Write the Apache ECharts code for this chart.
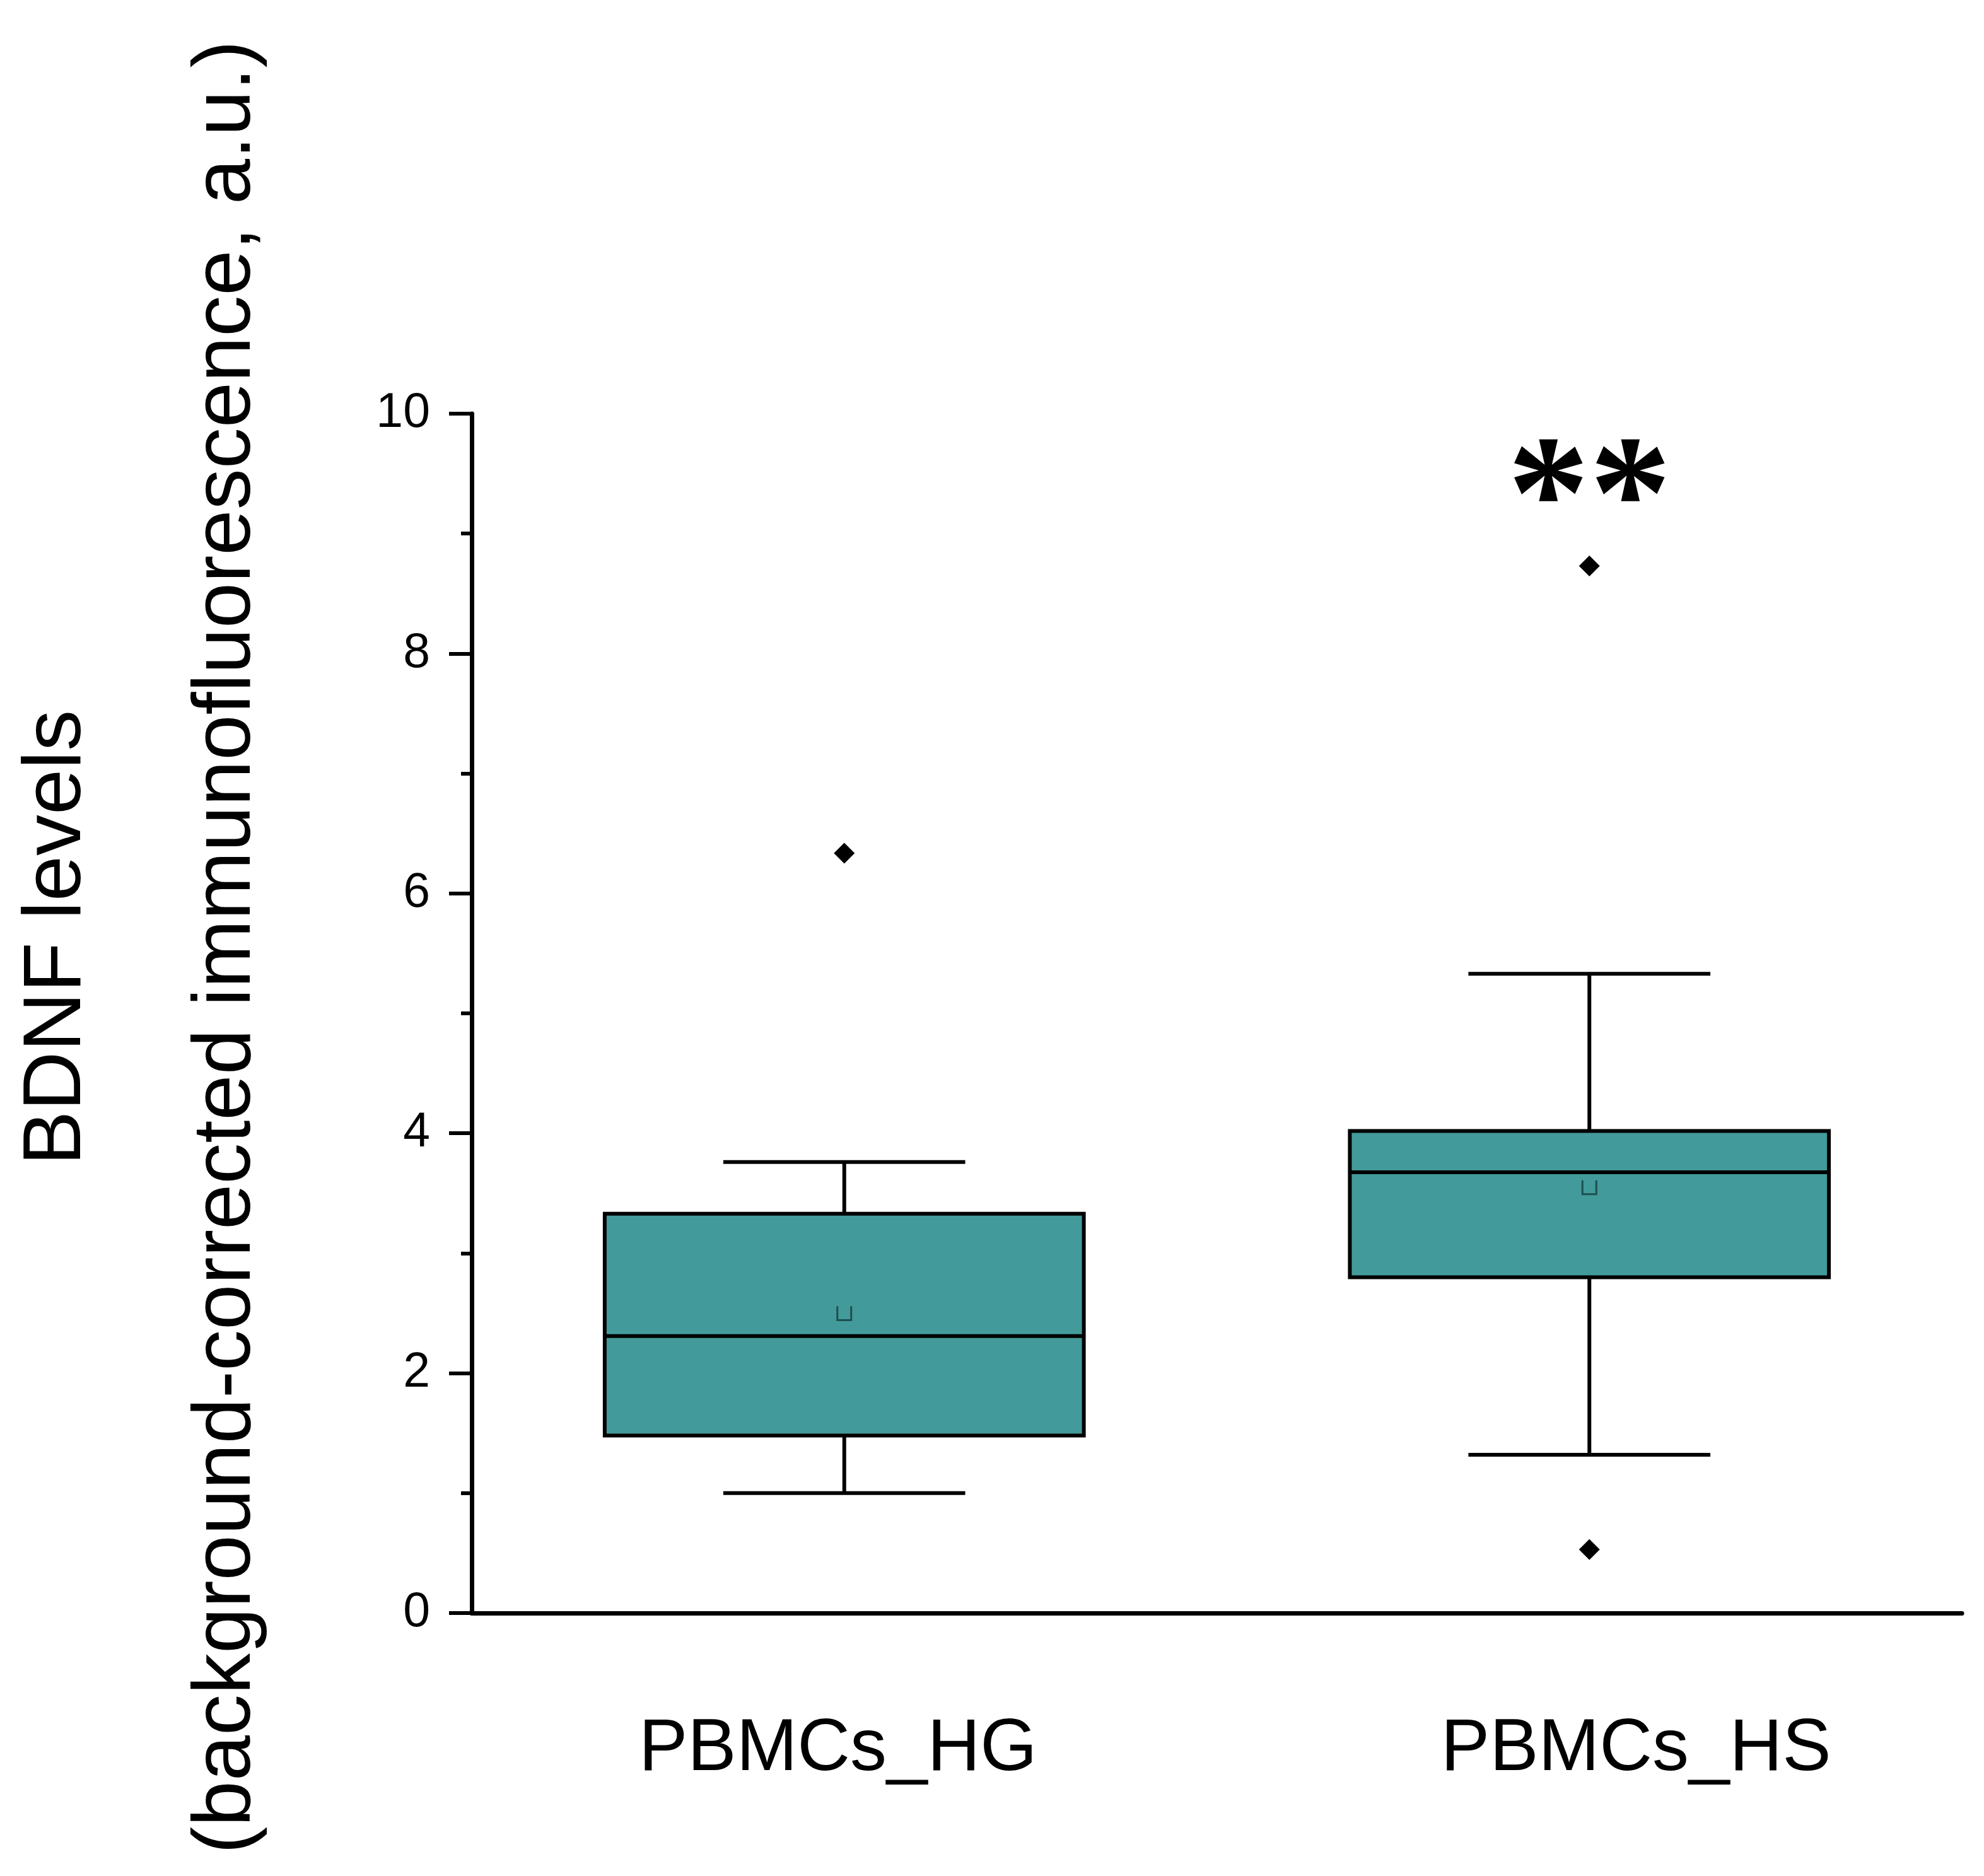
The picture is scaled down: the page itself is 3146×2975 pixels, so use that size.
<!DOCTYPE html>
<html>
<head>
<meta charset="utf-8">
<script src="https://cdn.jsdelivr.net/npm/echarts@6/dist/echarts.min.js"></script>
<style>
html,body{margin:0;padding:0;background:#fff;}
#chart{width:3146px;height:2975px;}
</style>
</head>
<body>
<div id="chart"></div>
<script>
// ---- data ----
const categories   = ['PBMCs_HG', 'PBMCs_HS'];
const whiskerLow   = [1.00, 1.32];
const q1           = [1.48, 2.80];
const median       = [2.31, 3.675];
const q3           = [3.33, 4.02];
const whiskerHigh  = [3.76, 5.33];
const means        = [2.50, 3.55];
const outlierCat   = [0, 1, 1];
const outlierValue = [6.335, 8.73, 0.53];
const sigCat       = [1];
const sigValue     = [9.50];
const sigText      = ['**'];
const yTicks       = [0, 2, 4, 6, 8, 10];
const yTitle1      = 'BDNF levels';
const yTitle2      = '(background-corrected immunofluorescence, a.u.)';

const FONT = 'Arial, "Liberation Sans", sans-serif';
const chart = echarts.init(document.getElementById('chart'), null, {renderer: 'canvas'});

const boxData = categories.map((c, i) => [i, whiskerLow[i], q1[i], median[i], q3[i], whiskerHigh[i], means[i]]);
const outlierData = outlierCat.map((c, i) => [c, outlierValue[i]]);
const sigData = sigCat.map((c, i) => ({value: [c, sigValue[i]], name: sigText[i]}));

function renderBox(params, api) {
  const x = api.value(0);
  const lo = api.coord([x, api.value(1)]);
  const b1 = api.coord([x, api.value(2)]);
  const md = api.coord([x, api.value(3)]);
  const b3 = api.coord([x, api.value(4)]);
  const hi = api.coord([x, api.value(5)]);
  const mn = api.coord([x, api.value(6)]);
  const band = api.size([1, 0])[0];
  const bw = band * 0.643;
  const cw = bw * 0.505;
  const cx = lo[0];
  const lw = 6;
  const stroke = '#000';
  const ms = 22;
  return {
    type: 'group',
    children: [
      {type: 'line', shape: {x1: cx, y1: hi[1], x2: cx, y2: b3[1]}, style: {stroke, lineWidth: lw}},
      {type: 'line', shape: {x1: cx, y1: lo[1], x2: cx, y2: b1[1]}, style: {stroke, lineWidth: lw}},
      {type: 'line', shape: {x1: cx - cw / 2, y1: hi[1], x2: cx + cw / 2, y2: hi[1]}, style: {stroke, lineWidth: lw}},
      {type: 'line', shape: {x1: cx - cw / 2, y1: lo[1], x2: cx + cw / 2, y2: lo[1]}, style: {stroke, lineWidth: lw}},
      {type: 'rect', shape: {x: cx - bw / 2, y: b3[1], width: bw, height: b1[1] - b3[1]},
        style: {fill: '#439a9a', stroke, lineWidth: lw}},
      {type: 'line', shape: {x1: cx - bw / 2, y1: md[1], x2: cx + bw / 2, y2: md[1]}, style: {stroke, lineWidth: lw}},
      {type: 'polyline', shape: {points: [[mn[0] - ms / 2, mn[1] - ms / 2], [mn[0] - ms / 2, mn[1] + ms / 2],
        [mn[0] + ms / 2, mn[1] + ms / 2], [mn[0] + ms / 2, mn[1] - ms / 2]]},
        style: {fill: null, stroke: '#1d4f4e', lineWidth: 3}}
    ]
  };
}

const option = {
  backgroundColor: '#fff',
  animation: false,
  grid: {left: 748, right: 35, top: 656, bottom: 417, containLabel: false},
  xAxis: {
    type: 'category',
    data: categories,
    boundaryGap: true,
    axisLine: {show: true, lineStyle: {color: '#000', width: 7}},
    axisTick: {show: false},
    splitLine: {show: false},
    axisLabel: {
      margin: 159,
      fontSize: 116,
      fontFamily: FONT,
      color: '#000',
      formatter: (v, i) => i === 0 ? '{a|' + v + '}' : '{b|' + v + '}',
      rich: {
        a: {fontSize: 116, fontFamily: FONT, color: '#000', padding: [0, 20, 0, 0]},
        b: {fontSize: 116, fontFamily: FONT, color: '#000', padding: [0, 0, 0, 148]}
      }
    }
  },
  yAxis: {
    type: 'value',
    min: yTicks[0],
    max: yTicks[yTicks.length - 1],
    interval: yTicks[1] - yTicks[0],
    axisLine: {show: true, lineStyle: {color: '#000', width: 7}},
    axisTick: {show: true, inside: false, length: 36, lineStyle: {color: '#000', width: 6}},
    minorTick: {show: true, splitNumber: 2, length: 17, lineStyle: {color: '#000', width: 6}},
    splitLine: {show: false},
    axisLabel: {margin: 66, fontSize: 77, fontFamily: FONT, color: '#000'}
  },
  graphic: [
    {type: 'text', x: 91, y: 1487, rotation: Math.PI / 2,
      style: {text: yTitle1, font: '130px ' + FONT, fill: '#000', textAlign: 'center', textVerticalAlign: 'middle'}},
    {type: 'text', x: 360, y: 1502, rotation: Math.PI / 2,
      style: {text: yTitle2, font: '130px ' + FONT, fill: '#000', textAlign: 'center', textVerticalAlign: 'middle'}}
  ],
  series: [
    {
      type: 'custom',
      renderItem: renderBox,
      data: boxData,
      encode: {x: 0, y: [1, 2, 3, 4, 5, 6]},
      z: 2
    },
    {
      type: 'scatter',
      data: outlierData,
      symbol: 'diamond',
      symbolSize: 33,
      itemStyle: {color: '#000', opacity: 1},
      z: 3
    },
    {
      type: 'scatter',
      data: sigData,
      symbolSize: 0,
      label: {
        show: true,
        position: 'inside',
        formatter: p => p.name,
        fontFamily: '"Liberation Serif", "Times New Roman", serif',
        fontWeight: 'bold',
        fontSize: 260,
        color: '#000',
        opacity: 1,
        textBorderWidth: 0,
        offset: [0, 50]
      },
      z: 4
    }
  ]
};
chart.setOption(option);
</script>
</body>
</html>
